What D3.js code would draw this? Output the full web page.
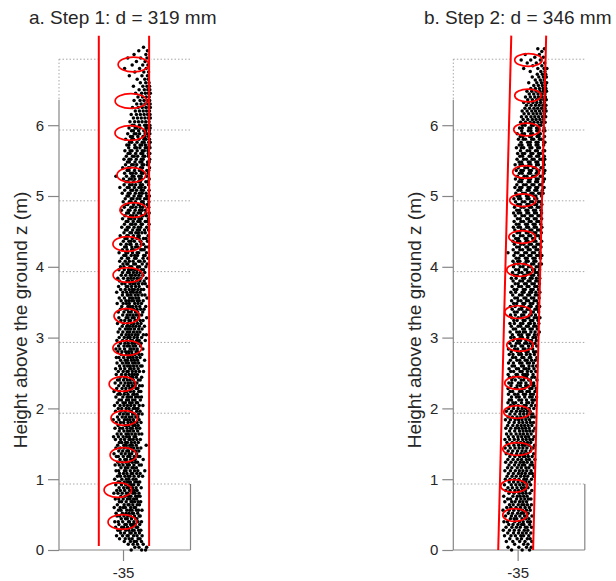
<!DOCTYPE html>
<html><head><meta charset="utf-8">
<script src="https://cdn.jsdelivr.net/npm/d3@7"></script>
<style>body{margin:0;background:#fff} text{font-family:"Liberation Sans",Arial,Helvetica,sans-serif}</style>
</head><body><svg id="c" width="616" height="581"></svg>
<script>
// ---------- data ----------
const titles = ["a. Step 1: d = 319 mm", "b. Step 2: d = 346 mm"];
const yLabel = "Height above the ground z (m)";
const yTicks = [0, 1, 2, 3, 4, 5, 6];
const xTicks = [-35];
const gridZ = [0.932, 1.932, 2.932, 3.932, 4.932, 5.932, 6.932];
const zDomain = [0, 6.935];
const xDomainA = [-35.406, -34.572];
const xDomainB = [-35.638, -34.334];
const diamA = 0.319, diamB = 0.346;
// stem axis: [z, x of centre]
const stemA = [[0.056, -34.994], [7.265, -34.994]];
const stemB = [[0.0, -35.0195], [7.265, -34.890]];
// ellipses: [z (m), x offset from -35 m (mm), x radius (mm)]
const ellipsesA = [[6.857,66,97],[6.342,50,100],[5.89,46,97],[5.297,53,91],[4.802,66,85],[4.322,27,91],[3.884,31,94],[3.305,24,81],[2.853,27,91],[2.345,-4,84],[1.864,8,84],[1.342,2,84],[0.847,-33,87],[0.395,-4,91]];
const ellipsesB = [[6.921,107,136],[6.42,102,131],[5.94,92,131],[5.34,82,131],[4.94,52,131],[4.42,43,131],[3.955,23,131],[3.36,3,131],[2.895,23,131],[2.36,3,131],[1.95,-7,131],[1.427,-2,145],[0.904,-37,131],[0.494,-27,121]];
const ellipseRyA = 0.105, ellipseRyB = 0.09;
// point cloud rows: [z (m), x offsets from -35 m (mm)...]
const cloudA = [
[0.00,52,118,143],[0.04,75,101,150],[0.08,33,64,92,128],[0.12,8,47,71,85,117],[0.16,-22,14,39,58,96,108],
[0.20,-41,-3,26,33,67,89,121],[0.24,-15,9,44,52,78,104],[0.28,-33,-19,18,37,61,70,99,113],[0.32,-47,-8,4,29,55,84,92],
[0.36,-26,12,21,48,63,77,106],[0.40,-52,-30,-2,35,41,69,95,117],[0.44,-11,16,27,54,81,88],[0.48,-38,-21,6,30,46,73,102,109],
[0.52,-44,-4,19,38,59,66,93],[0.56,-29,-13,24,43,57,85,98,120],[0.60,-56,-18,2,15,49,71,79],[0.64,-36,7,32,39,62,90,104],
[0.68,-23,-9,20,51,58,74,96,112],[0.72,-49,-27,1,28,45,67,86],[0.76,-14,13,36,50,80,94,108],[0.80,-58,-32,-5,22,31,63,76,101],
[0.84,-40,-17,10,42,55,72,89],[0.88,-25,4,26,34,60,83,115],[0.92,-46,-10,17,40,53,68,97],[0.96,-31,-20,8,29,47,75,91,106],
[1.00,-53,-7,21,37,64,82],[1.04,-35,-16,12,33,44,70,99,124],[1.08,-22,3,25,52,61,87,109],[1.12,-44,-28,9,19,46,73,94,138],
[1.16,-13,15,31,57,66,85],[1.20,-50,-24,0,27,40,69,103,116],[1.24,-33,-6,18,36,58,80,92],[1.28,-19,11,22,49,63,77,128],
[1.32,-42,-30,2,30,44,71,96,107],[1.36,-57,-11,14,39,55,86],[1.40,-27,-2,24,35,62,79,100],[1.44,-45,-18,7,31,50,68,91,113],
[1.48,-34,5,20,43,59,84,147],[1.52,-23,-8,16,28,53,74,97],[1.56,-48,-15,10,38,47,65,88,110],[1.60,-60,-29,1,23,41,70,81],
[1.64,-37,-12,19,34,56,78,101,119],[1.68,-24,6,29,45,67,93],[1.72,-51,-20,-3,25,48,59,85,106],[1.76,-31,12,21,37,63,77,96],
[1.80,-43,-16,4,32,52,71,89,114],[1.84,-62,-26,9,27,44,66,102],[1.88,-35,-5,17,40,57,81,94],[1.92,-21,2,24,33,61,74,99,121],
[1.96,-47,-13,14,46,53,87,108],[2.00,-30,-8,20,38,65,79,95],[2.04,-54,-19,6,28,49,72,103,126],[2.08,-36,0,15,42,58,84,92],
[2.12,-25,-10,22,35,61,76,110],[2.16,-45,-1,26,39,54,80,98,117],[2.20,-32,-17,8,31,63,71,89],[2.24,-57,-22,11,24,47,68,100,113],
[2.28,-40,-6,18,43,56,83,94],[2.32,-27,5,30,37,60,77,105,122],[2.36,-50,-14,13,34,52,74,88],[2.40,-35,-24,3,27,45,66,97,109],
[2.44,-18,9,21,48,62,85,118],[2.48,-43,-9,16,38,57,73,91],[2.52,-30,1,25,33,59,81,104,130],[2.56,-47,-16,11,42,50,70,96],
[2.60,-22,7,29,46,67,88,112,121],[2.64,-38,-4,19,36,61,78,99],[2.68,-15,14,28,53,72,92,137],[2.72,-42,-26,4,31,47,64,86,108],
[2.76,-11,22,39,58,76,101,119],[2.80,-33,-7,17,35,55,83,94],[2.84,-45,-20,10,44,51,69,90,126],[2.88,-28,6,26,40,63,80,110],
[2.92,-16,12,33,57,74,97,115],[2.96,-39,-3,23,48,60,87,103,141],[3.00,-24,8,30,45,70,91,118],[3.04,-9,19,37,56,78,95,129,148],
[3.08,-31,-1,27,43,66,88,107],[3.12,-20,15,34,50,73,99,121],[3.16,-5,24,41,62,82,104,136],[3.20,-35,3,29,53,69,92,114],
[3.24,-13,11,38,47,76,86,109,127],[3.28,-26,20,32,58,71,98,150],[3.32,-2,26,44,64,84,101,118],[3.36,-30,6,35,52,79,93,125],
[3.40,-17,16,28,57,68,89,112,133],[3.44,-8,31,46,61,83,106,144],[3.48,-37,1,22,40,74,95,117],[3.52,-12,18,36,55,67,90,103,128],
[3.56,-24,9,42,60,81,99,152],[3.60,-4,27,33,51,77,96,120,139],[3.64,-40,-1,23,48,65,87,108],[3.68,-15,14,39,58,72,94,115,131],
[3.72,-28,21,30,54,80,102,155],[3.76,-7,12,44,63,76,98,123,141],[3.80,-22,25,37,59,85,107,134],[3.84,-33,3,31,50,69,91,112,148],
[3.88,-11,17,46,57,78,100,126],[3.92,-3,29,40,66,88,110,138],[3.96,-26,8,35,53,74,93,117,130],
[4.00,-16,6,43,55,92,105,145],[4.04,0,24,31,68,79,122,153],[4.08,-21,14,40,64,99,108,135],[4.12,-9,28,35,74,83,127,158],
[4.16,5,18,52,74,92,131,140],[4.20,-25,18,30,60,89,99,149],[4.24,-4,26,55,67,113,121,134],[4.28,10,21,56,80,95,143,160],
[4.32,-14,21,43,50,86,116,129],[4.36,2,37,51,72,109,113,155],[4.40,13,25,59,88,102,130,146],[4.44,-18,24,33,66,94,103,159],
[4.48,6,44,54,81,98,120,141],[4.52,15,27,61,90,105,136,162],[4.56,-8,28,38,70,97,112,150],[4.60,9,48,58,79,115,123,165],
[4.64,20,31,65,94,108,141,154],[4.68,-3,37,52,74,101,117,161],[4.72,12,48,62,84,119,127,148],[4.76,23,35,69,96,111,145,166],
[4.80,-10,34,44,77,105,121,143],[4.84,8,50,60,82,110,125,163],[4.88,18,30,67,97,106,132,155],[4.92,1,40,51,79,118,128,164],
[4.96,14,52,63,89,107,137,152],[5.00,25,36,70,99,114,150,167],[5.04,-5,33,45,78,104,122,146],[5.08,11,50,61,86,116,129,165],
[5.12,-20,27,39,72,101,116,139],[5.16,7,42,58,80,110,124,162],[5.20,19,31,66,98,111,145,157],[5.24,3,40,53,75,106,119,166],
[5.28,-45,22,58,69,100,115,150],[5.32,10,48,60,82,117,127,160],[5.36,26,38,73,104,117,151,163],[5.40,-2,34,44,79,111,124,168],
[5.44,16,55,65,87,121,132,155],[5.48,28,40,76,107,120,156,166],[5.52,6,38,50,84,116,128,169],[5.56,21,60,71,93,127,138,161],
[5.60,32,45,80,113,125,160,170],[5.64,12,45,57,90,122,135,158],[5.68,36,75,85,107,141,153,171],[5.72,24,38,75,108,119,142,165],
[5.76,41,55,89,122,134,163,172],[5.80,17,56,67,101,133,146,168],[5.84,47,60,94,127,139,162],[5.88,30,71,83,105,140,151,170],
[5.92,54,66,99,132,144,167],[5.96,38,77,88,110,145,156,172],[6.00,58,70,104,137,149,170],
[6.05,44,74,98,121,144,165],[6.10,66,92,116,139,160,173],[6.15,52,85,110,134,156,171],[6.20,78,104,128,150,168],
[6.25,60,96,122,145,163,173],[6.30,87,115,139,158,172],[6.35,70,108,133,153,169],[6.40,95,124,147,166],
[6.45,80,118,142,161,173],[6.50,102,135,157,170],[6.55,66,126,152,168],[6.60,110,144,165],[6.65,90,138,160],
[6.70,40,120,155],[6.75,75,132,162],[6.80,10,105,147],[6.85,58,125,158],[6.90,85,140],[6.95,30,112,152],
[7.00,70,145],[7.05,100,155],[7.10,130]
];
const cloudB = [
[0.00,-60,45,118],[0.04,-95,12,88,135],[0.08,-30,60,102],[0.12,-112,-48,20,73,140],[0.16,-78,-5,38,96,124],
[0.20,-130,-66,-22,31,59,110],[0.24,-98,-41,8,47,85,131],[0.28,-142,-80,-33,14,66,101],[0.32,-115,-57,-12,26,77,93,138],
[0.36,-88,-46,3,40,61,119],[0.40,-136,-101,-29,18,55,99,127],[0.44,-72,-35,-9,44,80,112],[0.48,-120,-62,-20,22,69,91,142],
[0.52,-93,-51,0,35,58,104],[0.56,-145,-84,-38,11,49,87,125],[0.60,-108,-68,-16,28,74,116],[0.64,-81,-44,6,42,63,97,136],
[0.68,-127,-59,-25,19,52,89],[0.72,-99,-70,-11,33,71,108,132],[0.76,-138,-47,-3,25,60,94],[0.80,-86,-36,15,50,83,121],
[0.84,-118,-75,-27,9,46,78,140],[0.88,-96,-52,-6,37,68,103],[0.92,-131,-63,-18,21,56,92,129],[0.96,-84,-40,4,45,79,114],
[1.00,-122,-76,-30,13,62,88,137],[1.04,-105,-55,-14,30,67,100,158],[1.08,-91,-42,8,41,76,119,145],[1.12,-126,-71,-23,17,53,90,133],
[1.16,-100,-58,-4,36,82,111,165],[1.20,-85,-31,12,48,70,124,150],[1.24,-119,-66,-19,26,59,95,140],[1.28,-97,-45,2,39,86,117,171],
[1.32,-78,-28,20,57,73,106,144],[1.36,-113,-61,-10,32,65,99,159],[1.40,-94,-49,-1,44,81,126],[1.44,-124,-73,-26,15,52,92,137,154],
[1.48,-88,-37,10,47,72,113,168],[1.52,-106,-54,-8,29,63,98,130],[1.56,-126,-79,-33,6,50,85,121,149],[1.60,-92,-43,3,40,77,109,162],
[1.64,-110,-65,-15,24,58,96,134],[1.68,-80,-29,18,54,87,120,153],[1.72,-117,-68,-21,11,46,79,115,170],[1.76,-99,-48,-3,35,69,104,141],
[1.80,-86,-34,14,51,90,127,157],[1.84,-121,-72,-25,9,43,82,118],[1.88,-95,-52,-6,31,66,101,139,166],[1.92,-76,-27,22,59,94,131,151],
[1.96,-112,-60,-12,27,61,97,123],[2.00,-90,-41,5,45,80,116,160],
[2.04,-70,-38,6,63,84,136,178],[2.08,-96,-47,-20,38,91,110,149],[2.12,-83,-61,12,40,88,142,167],[2.16,-61,-13,16,70,119,144,188],
[2.20,-92,-30,2,57,78,128,156],[2.24,-75,-50,20,44,93,117,172],[2.28,-95,-26,-6,49,67,121,141,185],[2.32,-66,-5,27,80,101,151,163],
[2.36,-87,-58,8,33,82,134,159],[2.40,-58,-23,36,60,110,126,191],[2.44,-81,-44,14,66,89,143,169],[2.48,-94,-16,-2,52,76,98,153],
[2.52,-69,-40,24,45,97,135,180],[2.56,-85,-12,9,63,84,112,162],[2.60,-55,-31,38,58,113,150,187],[2.64,-90,-42,20,43,96,117,157],
[2.68,-72,-7,21,75,95,139,176],[2.72,-50,-20,42,61,116,130,190],[2.76,-83,-46,11,38,87,124,166],[2.80,-64,-2,30,82,104,158,182],
[2.84,-91,-30,0,55,73,111,149],[2.88,-59,-25,34,50,108,146,189],[2.92,-77,-12,17,70,92,129,171],[2.96,-46,2,29,83,120,138,186],
[3.00,-68,-36,26,47,100,152,179],[3.04,-52,10,40,95,114,166,200],[3.08,-74,-9,19,57,78,131,173,215],[3.12,-43,-20,50,68,123,145,195],
[3.16,-63,5,30,88,106,160,184],[3.20,-76,-32,28,52,110,126,166,210],[3.24,-38,-5,55,73,128,150,202],[3.28,-58,6,35,92,111,165,190,221],
[3.32,-70,-23,40,61,118,135,177],[3.36,-33,-4,60,79,133,156,208],[3.40,-54,15,40,96,115,172,195],[3.44,-72,-25,37,59,112,134,190,218],
[3.48,-40,-10,52,70,126,150,204],[3.52,-60,5,33,88,108,164,187],[3.56,-28,-2,63,82,137,160,213],[3.60,-49,18,44,100,119,175,198],
[3.64,-67,-20,45,64,120,139,181,220],[3.68,-35,-8,57,76,131,154,207],[3.72,-55,10,38,94,113,170,193],[3.76,-24,5,68,86,142,165,216],
[3.80,-45,22,49,104,124,180,202],[3.84,-62,-15,50,69,125,144,186,219],[3.88,-31,-3,61,80,136,158,210],[3.92,-51,14,42,98,118,175,197],
[3.96,-20,9,72,90,147,168,217],[4.00,-41,25,53,108,128,184,205],
[4.04,-30,5,63,80,139,160,214,236],[4.08,-46,1,22,85,104,161,181],[4.12,-15,12,77,95,152,173,226],[4.16,-37,30,56,112,132,189,209,240],
[4.20,-96,-22,4,70,88,146,167,221],[4.24,-44,22,49,105,125,182,203],[4.28,-10,17,82,100,157,178,232],[4.32,-33,33,60,117,136,193,213],
[4.36,-47,-1,20,84,103,160,180,238],[4.40,-19,8,74,92,149,168,224],[4.44,-39,28,54,111,130,187,207],[4.48,-6,20,86,104,161,180,235],
[4.52,-28,38,65,122,141,198,218],[4.56,-42,5,27,89,108,165,185,240],[4.60,-13,14,79,97,154,173,229],[4.64,-35,32,58,115,134,191,211],
[4.68,-2,25,90,108,165,184,238],[4.72,-24,43,69,126,145,202,221],[4.76,-40,6,30,91,110,167,187,237],[4.80,-9,18,83,101,158,177,232],
[4.84,-31,36,62,119,138,195,215],[4.88,1,28,93,111,168,187,240],[4.92,-21,46,72,129,148,205,224],[4.96,-37,10,31,94,113,170,190],
[5.00,-5,22,87,105,162,181,236],[5.04,-18,49,76,133,152,209,228,252],[5.08,4,30,96,114,171,190,245],[5.12,-27,20,42,104,123,180,199,262],
[5.16,-8,58,85,142,161,218,237],[5.20,12,39,104,122,179,198,254],[5.24,-22,25,47,109,128,185,204,266],[5.28,-1,65,92,149,168,225,244],
[5.32,18,45,110,128,185,204,260],[5.36,-14,33,56,117,136,193,212,270],[5.40,6,72,99,156,175,232,251],[5.44,-25,24,48,112,131,188,207,263],
[5.48,14,40,106,124,181,200,256],[5.52,-6,60,87,144,163,220,240,269],[5.56,22,49,114,132,189,208,264],[5.60,0,48,70,132,151,208,227],
[5.64,28,94,120,177,196,253,268],[5.68,-12,37,60,122,141,198,217],[5.72,16,43,108,126,183,202,258],[5.76,34,100,126,183,202,259,270],
[5.80,8,56,78,140,159,216,235],[5.84,26,53,118,136,193,212,266],[5.88,-4,45,68,130,149,206,225],[5.92,40,106,132,189,208,255,270],
[5.96,19,46,112,131,188,207,262],[6.00,47,74,138,157,213,232],
[6.04,30,78,124,162,200,238,272],[6.08,55,101,146,183,221,258],[6.12,38,86,132,170,208,246,278],[6.16,64,110,154,191,229,265],
[6.20,45,94,140,178,216,254,282],[6.24,72,118,162,199,237,271],[6.28,88,134,177,214,250,280],[6.32,60,108,152,190,228,264],
[6.36,100,146,189,225,259,284],[6.40,78,126,170,207,243,275],[6.44,115,160,202,238,270],[6.48,92,140,184,221,256,286],
[6.52,130,176,216,252,280],[6.56,160,205,245,275],[6.60,110,190,236,270,288],[6.64,175,225,262],[6.68,145,210,255,285],
[6.72,195,245,278],[6.76,125,230,270],[6.80,60,200,262,290],[6.84,150,240],[6.88,95,185,268],[6.92,35,130,225],
[6.96,170,255],[7.00,75,215],[7.04,240],[7.08,200,265]
];

// ---------- drawing ----------
const svg = d3.select("#c");
const axisCol = "#868686", textCol = "#262626", gridCol = "#a8a8a8", red = "#ff0000";
const y = d3.scaleLinear().domain(zDomain).range([550, 59]);
const toX = v => -35 + v / 1000;
const fmt = d => String(d);

const panels = [
  {title: titles[0], xDomain: xDomainA, x0: 59, stem: stemA, d: diamA, ell: ellipsesA, ry: ellipseRyA, cloud: cloudA, tx: 29},
  {title: titles[1], xDomain: xDomainB, x0: 453.3, stem: stemB, d: diamB, ell: ellipsesB, ry: ellipseRyB, cloud: cloudB, tx: 424}
];

panels.forEach(p => {
  const x = d3.scaleLinear().domain(p.xDomain).range([p.x0, p.x0 + 131.5]);
  const g = svg.append("g");
  const [x0, x1] = x.range();

  g.selectAll("line.grid").data(gridZ).join("line")
    .attr("x1", x0).attr("x2", x1).attr("y1", d => y(d)).attr("y2", d => y(d))
    .attr("stroke", gridCol).attr("stroke-width", 1).attr("stroke-dasharray", "1.5,2");
  g.append("line").attr("x1", x0).attr("x2", x0).attr("y1", y(6.935)).attr("y2", y(6.36))
    .attr("stroke", gridCol).attr("stroke-dasharray", "1.5,2");

  const [s0, s1] = p.stem;
  g.append("polygon")
    .attr("points", [[x(s0[1] - p.d/2), y(s0[0])], [x(s1[1] - p.d/2), y(s1[0])],
                     [x(s1[1] + p.d/2) + 2, y(s1[0])], [x(s0[1] + p.d/2) + 2, y(s0[0])]].map(q => q.join(",")).join(" "))
    .attr("fill", "#fff");

  g.append("line").attr("x1", x0).attr("x2", x0).attr("y1", y(0)).attr("y2", y(6.36)).attr("stroke", axisCol).attr("stroke-width", 1.2);
  g.append("line").attr("x1", x0).attr("x2", x1).attr("y1", y(0)).attr("y2", y(0)).attr("stroke", axisCol).attr("stroke-width", 1.2);
  g.append("line").attr("x1", x1).attr("x2", x1).attr("y1", y(0)).attr("y2", y(gridZ[0])).attr("stroke", axisCol).attr("stroke-width", 1.2);

  const ya = g.append("g").attr("transform", `translate(${x0},0)`)
    .call(d3.axisLeft(y).tickValues(yTicks).tickSize(11).tickPadding(4).tickFormat(fmt));
  ya.select(".domain").remove();
  ya.selectAll("line").attr("stroke", axisCol).attr("stroke-width", 1.2);
  ya.selectAll("text").attr("fill", textCol).style("font-size", "15px").style("font-family", "'Liberation Sans',Arial,sans-serif");

  const xa = g.append("g").attr("transform", `translate(0,${y(0)})`)
    .call(d3.axisBottom(x).tickValues(xTicks).tickSize(11).tickPadding(6).tickFormat(fmt));
  xa.select(".domain").remove();
  xa.selectAll("line").attr("stroke", axisCol).attr("stroke-width", 1.2);
  xa.selectAll("text").attr("fill", textCol).style("font-size", "15px").style("font-family", "'Liberation Sans',Arial,sans-serif");

  const pts = [];
  p.cloud.forEach(r => r.slice(1).forEach(v => pts.push([v, r[0]])));
  g.append("g").selectAll("circle").data(pts).join("circle")
    .attr("cx", d => x(toX(d[0]))).attr("cy", d => y(d[1])).attr("r", 1.75).attr("fill", "#000");

  g.append("g").selectAll("ellipse").data(p.ell).join("ellipse")
    .attr("cx", d => x(toX(d[1]))).attr("cy", d => y(d[0]))
    .attr("rx", d => x(toX(d[1] + d[2])) - x(toX(d[1])))
    .attr("ry", d => y(d[0]) - y(d[0] + p.ry))
    .attr("fill", "none").attr("stroke", red).attr("stroke-width", 1.7);

  [-1, 1].forEach(sg => {
    g.append("line")
      .attr("x1", x(s0[1] + sg * p.d / 2)).attr("y1", y(s0[0]))
      .attr("x2", x(s1[1] + sg * p.d / 2)).attr("y2", y(s1[0]))
      .attr("stroke", red).attr("stroke-width", 2);
  });

  svg.append("text").attr("x", p.tx).attr("y", 24).attr("fill", textCol)
    .style("font-size", "19px").text(p.title);
  svg.append("text").attr("transform", `translate(${x0 - 32},320) rotate(-90)`)
    .attr("text-anchor", "middle").attr("fill", textCol).style("font-size", "19px").text(yLabel);
});
</script></body></html>
